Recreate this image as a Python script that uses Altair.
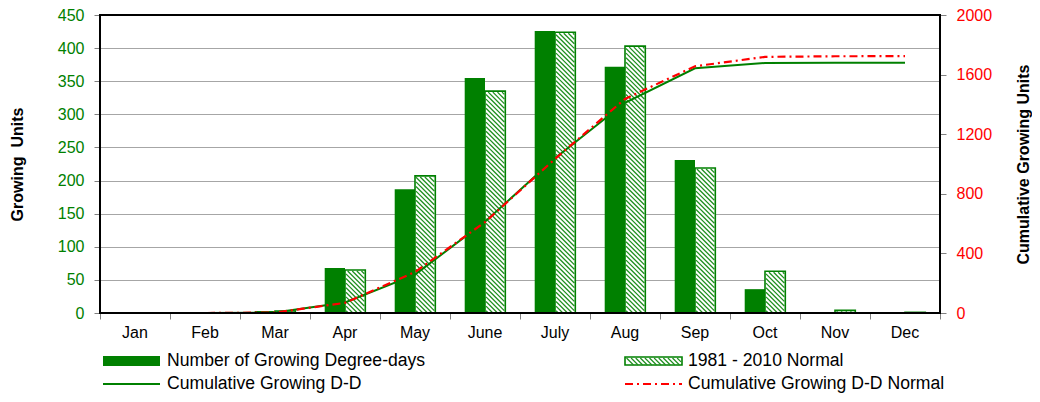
import altair as alt
import pandas as pd

months = ["Jan", "Feb", "Mar", "Apr", "May", "June", "July", "Aug", "Sep", "Oct", "Nov", "Dec"]
observed = [0, 0, 3, 68, 187, 355, 426, 372, 231, 36, 1, 0]
normal = [0, 0, 3, 65, 207, 335, 424, 403, 219, 63, 4, 1]

left_ticks = [0, 50, 100, 150, 200, 250, 300, 350, 400, 450]
right_ticks = [0, 400, 800, 1200, 1600, 2000]

W, H = 840, 298
YMAX, Y2MAX = 450, 2000
GREEN = "#008000"
FONT = "Liberation Sans"

cum_obs, cum_norm = [], []
s1 = s2 = 0
for a, b in zip(observed, normal):
    s1 += a
    s2 += b
    cum_obs.append(s1)
    cum_norm.append(s2)

idx = list(range(12))
half = 0.29
bars = pd.DataFrame({
    "month": months,
    "xc": [i + 0.5 for i in idx],
    "obs": observed,
    "norm": normal,
    "ox0": [i + 0.5 - half for i in idx],
    "ox1": [i + 0.5 for i in idx],
    "nx0": [i + 0.5 for i in idx],
    "nx1": [i + 0.5 + half for i in idx],
    "zero": [0] * 12,
})
lines = pd.DataFrame({
    "xc": [i + 0.5 for i in idx] * 2,
    "cum": cum_obs + cum_norm,
    "series": ["obs"] * 12 + ["norm"] * 12,
})

# hatch segments for the normal bars (derived from data via scale factors)
pxx = W / 12.0
pxy = H / YMAX
step = 4.6
segs = []
for i, v in enumerate(normal):
    xl = (i + 0.5) * pxx + 1
    xr = (i + 0.5 + half) * pxx - 1
    yt = v * pxy - 1
    if yt <= 0:
        continue
    c = xl + step * 0.5
    while c < xr + yt:
        xs = max(xl, c - yt)
        xe = min(xr, c)
        if xs < xe:
            segs.append({"x": xs / pxx, "x2": xe / pxx,
                         "y": (c - xs) / pxy, "y2": (c - xe) / pxy})
        c += step
hatch = pd.DataFrame(segs)

xscale = alt.Scale(domain=[0, 12], nice=False, zero=False)
yscale = alt.Scale(domain=[0, YMAX], nice=False)
y2scale = alt.Scale(domain=[0, Y2MAX], nice=False)

x_axis = alt.Axis(
    values=list(range(13)), labels=False,
    title=None, grid=False, domain=False, tickColor="#808080", tickSize=6,
)

base = alt.Chart(bars)

obs_bars = base.mark_rect(color=GREEN).encode(
    x=alt.X("ox0:Q", scale=xscale, axis=x_axis),
    x2="ox1:Q",
    y=alt.Y("obs:Q", scale=yscale, axis=alt.Axis(
        values=left_ticks, title="Growing\u00a0 Units", grid=True, gridColor="#a6a6a6",
        domain=False, tickColor="#808080", tickSize=6, labelPadding=10,
        labelColor=GREEN, labelFont=FONT, labelFontSize=16,
        titleFont=FONT, titleFontSize=16, titleFontWeight="bold", titleColor="black",
        titleAngle=270, titleX=-83, titleY=H / 2, titleAlign="center", titleBaseline="middle",
    )),
    y2="zero:Q",
)

month_labels = base.mark_text(
    baseline="middle", align="center", font=FONT, fontSize=16, color="black").encode(
    x=alt.X("xc:Q", scale=xscale),
    y=alt.value(H + 20),
    text="month:N",
)

norm_fill = base.mark_rect(fill="white").encode(
    x=alt.X("nx0:Q", scale=xscale), x2="nx1:Q",
    y=alt.Y("norm:Q", scale=yscale, axis=None), y2="zero:Q",
)

hatch_rules = alt.Chart(hatch).mark_rule(color="#1f8f1f", strokeWidth=1.3).encode(
    x=alt.X("x:Q", scale=xscale), x2="x2:Q",
    y=alt.Y("y:Q", scale=yscale, axis=None), y2="y2:Q",
)

norm_outline = base.mark_rect(fill=None, stroke=GREEN, strokeWidth=1.6).encode(
    x=alt.X("nx0:Q", scale=xscale), x2="nx1:Q",
    y=alt.Y("norm:Q", scale=yscale, axis=None), y2="zero:Q",
)

cum_line_obs = alt.Chart(lines).transform_filter("datum.series === 'obs'").mark_line(
    color=GREEN, strokeWidth=2).encode(
    x=alt.X("xc:Q", scale=xscale),
    y=alt.Y("cum:Q", scale=y2scale, axis=alt.Axis(
        orient="right", values=right_ticks, format="d", title="Cumulative Growing Units", grid=False,
        domain=False, tickColor="#808080", tickSize=6, labelPadding=10,
        labelColor="red", labelFont=FONT, labelFontSize=16,
        titleFont=FONT, titleFontSize=16, titleFontWeight="bold", titleColor="black",
        titleAngle=270, titleX=83, titleY=H / 2, titleAlign="center", titleBaseline="middle",
    )),
)
cum_line_norm = alt.Chart(lines).transform_filter("datum.series === 'norm'").mark_line(
    color="#ff0000", strokeWidth=2.2, strokeDash=[8, 4, 2, 4]).encode(
    x=alt.X("xc:Q", scale=xscale),
    y=alt.Y("cum:Q", scale=y2scale, axis=None),
)

# frame
frame = alt.Chart(pd.DataFrame({"a": [0]})).mark_rect(
    fill=None, stroke="black", strokeWidth=2).encode(
    x=alt.value(0), x2=alt.value(W), y=alt.value(0), y2=alt.value(H))

# legend (decorative, placed below the plot)
leg_text = ["Number of Growing Degree-days", "1981 - 2010 Normal",
            "Cumulative Growing D-D", "Cumulative Growing D-D Normal"]
r1, r2 = 346, 369
c1, c2 = 3, 525
sw = 57
leg = []
leg.append(alt.Chart(pd.DataFrame({"a": [0]})).mark_rect(color=GREEN).encode(
    x=alt.value(c1), x2=alt.value(c1 + sw), y=alt.value(r1 - 5), y2=alt.value(r1 + 5)))
leg.append(alt.Chart(pd.DataFrame({"a": [0]})).mark_rect(fill="white", stroke=GREEN, strokeWidth=1.6).encode(
    x=alt.value(c2), x2=alt.value(c2 + sw), y=alt.value(r1 - 4), y2=alt.value(r1 + 4)))
lx = c2 + 1.5
while lx < c2 + sw:
    leg.append(alt.Chart(pd.DataFrame({"a": [0]})).mark_rule(color="#1f8f1f", strokeWidth=1.2).encode(
        x=alt.value(lx), x2=alt.value(min(lx + 7, c2 + sw - 1)), y=alt.value(r1 - 3),
        y2=alt.value(r1 - 3 + (min(lx + 7, c2 + sw - 1) - lx))))
    lx += 4.6
leg.append(alt.Chart(pd.DataFrame({"a": [0]})).mark_rule(color=GREEN, strokeWidth=2).encode(
    x=alt.value(c1), x2=alt.value(c1 + sw), y=alt.value(r2)))
leg.append(alt.Chart(pd.DataFrame({"a": [0]})).mark_rule(color="#ff0000", strokeWidth=2.2, strokeDash=[8, 4, 2, 4]).encode(
    x=alt.value(c2), x2=alt.value(c2 + sw), y=alt.value(r2)))
for t, xx, yy in [(leg_text[0], c1 + sw + 7, r1), (leg_text[1], c2 + sw + 6, r1),
                  (leg_text[2], c1 + sw + 7, r2), (leg_text[3], c2 + sw + 6, r2)]:
    leg.append(alt.Chart(pd.DataFrame({"t": [t]})).mark_text(
        align="left", baseline="middle", font=FONT, fontSize=17.6, color="black").encode(
        x=alt.value(xx), y=alt.value(yy), text="t:N"))

chart = alt.layer(
    obs_bars, norm_fill, hatch_rules, norm_outline, cum_line_obs, cum_line_norm, frame,
    month_labels, *leg
).resolve_scale(y="independent").properties(
    width=W, height=H,
    autosize=alt.AutoSizeParams(type="none"),
    padding={"left": 92, "top": 7, "right": 92, "bottom": 81},
).configure_view(stroke=None)

chart.save("out.html", embed_options={"renderer": "svg", "actions": False})
